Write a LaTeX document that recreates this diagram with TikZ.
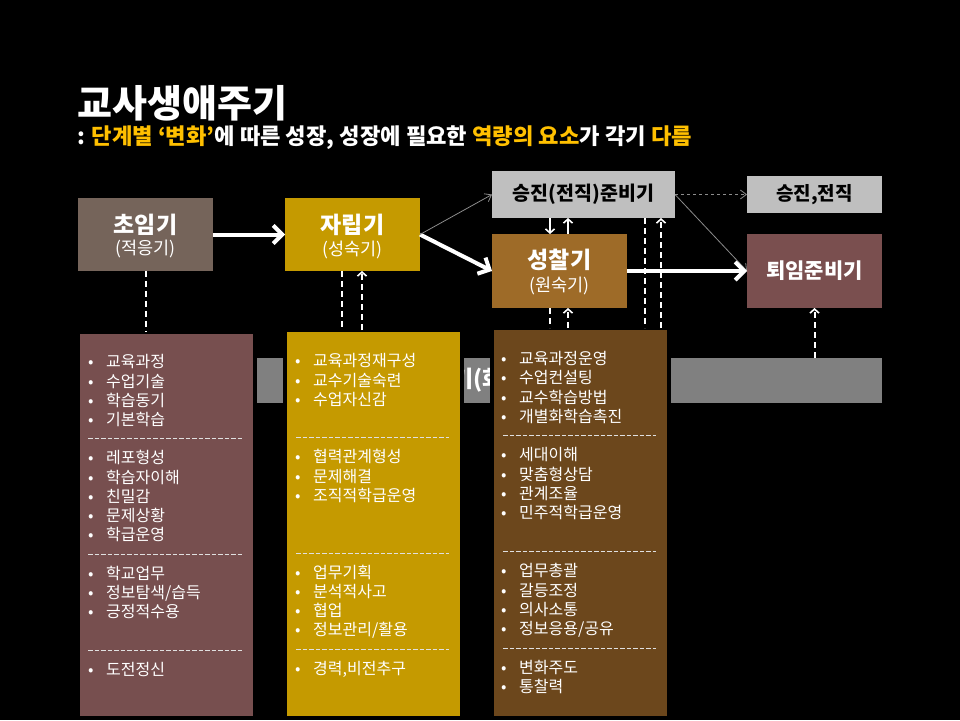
\documentclass[tikz,border=0pt]{standalone}
\usepackage{fontspec}
\setmainfont{Noto Sans CJK KR}
\usetikzlibrary{arrows.meta,calc}
\definecolor{cChorim}{HTML}{75645A}
\definecolor{cGold}{HTML}{C59A00}
\definecolor{cLight}{HTML}{BFBFBF}
\definecolor{cSeong}{HTML}{9E6B28}
\definecolor{cToe}{HTML}{7A4F4F}
\definecolor{cCol1}{HTML}{774F4F}
\definecolor{cCol3}{HTML}{6C471C}
\definecolor{cBar}{HTML}{808080}
\definecolor{ylw}{HTML}{FFC000}
\definecolor{arrgray}{HTML}{8C8C8C}
\tikzset{
 box/.style={rectangle, inner sep=0pt, outer sep=0pt},
 colbox/.style={rectangle, draw=black, line width=4pt, inner sep=0pt, outer sep=0pt, minimum width=177pt},
 bigarrow/.style={draw=white, line width=4pt, -{Straight Barb[length=9pt,width=18pt]}},
 thinarrow/.style={draw=arrgray, line width=0.8pt, -{Straight Barb[length=6pt,width=9pt]}},
 dl/.style={draw=white, line width=2pt, dash pattern=on 6pt off 4pt},
 dlarrow/.style={dl, -{Straight Barb[length=4pt,width=9pt,line width=1.6pt]}},
 solarrow/.style={draw=white, line width=1.6pt, -{Straight Barb[length=4pt,width=9pt]}},
 itemtxt/.style={anchor=base west, inner sep=0pt, text=white, font=\fontsize{16}{18}\selectfont},
 sepline/.style={draw=white!88!black, line width=0.9pt, dash pattern=on 4.5pt off 2pt},
 lab/.style={inner sep=0pt, text=white, font=\fontsize{23}{26}\bfseries},
 sublab/.style={inner sep=0pt, text=white, font=\fontsize{17.5}{20}\selectfont},
}
\begin{document}
\begin{tikzpicture}[x=1pt,y=-1pt]
\fill[black] (0,0) rectangle (960,720);
\useasboundingbox (0,0) rectangle (960,720);

% title
\node[anchor=west, inner sep=0pt, text=white, font=\fontsize{38}{44}\bfseries] (title) at (77,103.5) {교사생애주기};
\node[anchor=west, inner sep=0pt, text=white, font=\fontsize{22.2}{26}\bfseries] (subtitle) at (77,138)
 {: \textcolor{ylw}{단계별 ‘변화’}에 따른 성장, 성장에 필요한 \textcolor{ylw}{역량의 요소}가 각기 \textcolor{ylw}{다름}};

% stage boxes
\node[box, fill=cChorim, minimum width=135pt, minimum height=73pt] (chorim) at (145.5,234.5) {};
\node[lab] (chorimT) at (145.5,224.5) {초임기};
\node[sublab] (chorimS) at (145.5,248.5) {(적응기)};

\node[box, fill=cGold, minimum width=135pt, minimum height=73pt] (jarip) at (352.5,234.5) {};
\node[lab] (jaripT) at (352.5,224.5) {자립기};
\node[sublab] (jaripS) at (352.5,249.5) {(성숙기)};

\node[box, fill=cLight, minimum width=183pt, minimum height=47pt, text=black, font=\fontsize{19.5}{22}\bfseries] (seungjin) at (583.5,194.5) {승진(전직)준비기};

\node[box, fill=cSeong, minimum width=135pt, minimum height=74pt] (seongchal) at (559.5,271) {};
\node[lab] (seongchalT) at (559.5,259.5) {성찰기};
\node[sublab] (seongchalS) at (559.5,285.5) {(원숙기)};

\node[box, fill=cLight, minimum width=135pt, minimum height=37pt, text=black, font=\fontsize{19}{22}\bfseries] (jeonjik) at (814.5,194.5) {승진,전직};

\node[box, fill=cToe, minimum width=135pt, minimum height=74pt, text=white, font=\fontsize{21}{24}\bfseries] (toeim) at (814.5,271) {퇴임준비기};

% gray bar
\node[box, fill=cBar, minimum width=625pt, minimum height=45pt] (bar) at (569.5,380.5) {};
\node[anchor=west, inner sep=0pt, text=white, font=\fontsize{23}{26}\bfseries] (barT) at (452,380.5) {기(화};

% connectors
\draw[bigarrow] (chorim.east) -- (jarip.west);
\draw[bigarrow] (jarip.east) -- (seongchal.west);
\draw[thinarrow] (jarip.east) -- (seungjin.west);
\draw[thinarrow, dashed] (seungjin.east) -- (jeonjik.west);
\draw[thinarrow] (seungjin.east) -- (toeim.west);

% columns
\node[colbox, fill=cCol1, minimum height=386pt] (col1) at (166.5,525) {};
\node[colbox, fill=cGold, minimum height=388pt] (col2) at (373.5,524) {};
\node[colbox, fill=cCol3, minimum height=390pt] (col3) at (580.5,523) {};

% vertical links
\draw[dl] (chorim.south) -- (chorim.south |- col1.north);
\draw[dl] ($(jarip.south)+(-10.5,0)$) -- ($(jarip.south |- col2.north)+(-10.5,0)$);
\draw[dlarrow] ($(jarip.south |- col2.north)+(9.5,0)$) -- ($(jarip.south)+(9.5,0)$);
\draw[solarrow] ($(seongchal.north |- seungjin.south)+(-9.5,0)$) -- ($(seongchal.north)+(-9.5,0)$);
\draw[solarrow] ($(seongchal.north)+(8.5,0)$) -- ($(seongchal.north |- seungjin.south)+(8.5,0)$);
\draw[dl] ($(seongchal.south)+(-9.5,0)$) -- ($(seongchal.south |- col3.north)+(-9.5,0)$);
\draw[dlarrow] ($(seongchal.south |- col3.north)+(8.5,0)$) -- ($(seongchal.south)+(8.5,0)$);
\draw[dl] ($(seungjin.south)+(61.5,0)$) -- ($(seungjin.south |- col3.north)+(61.5,0)$);
\draw[dlarrow] ($(seungjin.south |- col3.north)+(77.5,0)$) -- ($(seungjin.south)+(77.5,0)$);
\draw[dlarrow] (toeim.south |- bar.north) -- (toeim.south);
\draw[bigarrow] (seongchal.east) -- (toeim.west);

% column 1
\foreach \i/\t in {0/교육과정,1/수업기술,2/학습동기,3/기본학습,5/레포형성,6/학습자이해,7/친밀감,8/문제상황,9/학급운영,11/학교업무,12/{정보탐색/습득},13/긍정적수용,16/도전정신}
  \node[itemtxt] (c1-\i) at (88,{362+19.2*\i+5.9}) {\makebox[18pt][l]{•}\t};
\foreach \i in {4,10,15}
  \draw[sepline] (88,{362+19.2*\i}) -- (242,{362+19.2*\i});

% column 2
\foreach \i/\t in {0/교육과정재구성,1/교수기술숙련,2/수업자신감,5/협력관계형성,6/문제해결,7/조직적학급운영,11/업무기획,12/분석적사고,13/협업,14/{정보관리/활용},16/{경력,비전추구}}
  \node[itemtxt] (c2-\i) at (295,{361+19.2*\i+5.9}) {\makebox[18pt][l]{•}\t};
\foreach \i in {4,10,15}
  \draw[sepline] (296,{361+19.2*\i}) -- (449,{361+19.2*\i});

% column 3
\foreach \i/\t in {0/교육과정운영,1/수업컨설팅,2/교수학습방법,3/개별화학습촉진,5/세대이해,6/맞춤형상담,7/관계조율,8/민주적학급운영,11/업무총괄,12/갈등조정,13/의사소통,14/{정보응용/공유},16/변화주도,17/통찰력}
  \node[itemtxt] (c3-\i) at (501,{358.5+19.3*\i+5.9}) {\makebox[18pt][l]{•}\t};
\foreach \i in {4,10,15}
  \draw[sepline] (503,{358.5+19.3*\i}) -- (656,{358.5+19.3*\i});
\end{tikzpicture}
\end{document}
